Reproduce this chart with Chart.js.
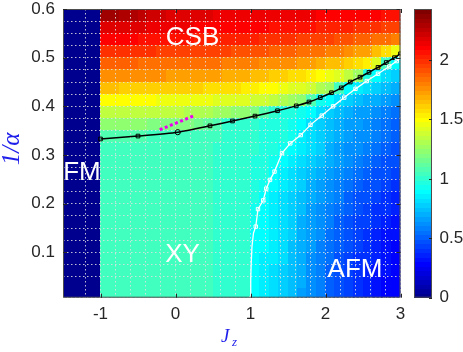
<!DOCTYPE html>
<html>
<head>
<meta charset="utf-8">
<script src="https://cdn.jsdelivr.net/npm/chart.js@4.4.0/dist/chart.umd.min.js"></script>
<style>
  html, body { margin: 0; padding: 0; background: #fff; }
  canvas { display: block; }
</style>
</head>
<body>
<canvas id="phaseChart" width="463" height="352"></canvas>
<script>
// heat map grid: columns start at Jz = -1 (step 0.125), rows start at 1/alpha = 0.6 going down (step 0.025)
const jzStart = -1;
const jzStep = 0.125;
const rowTop = 0.6;
const rowStep = 0.025;
const fmValue = 0; // whole block Jz < -1

const heatRows = [
  [2.33,2.32,2.30,2.28,2.26,2.24,2.22,2.20,2.19,2.18,2.17,2.17,2.16,2.16,2.15,2.15,2.15,2.14,2.14,2.14,2.13,2.13,2.13,2.12,2.12,2.11,2.11,2.10,2.10,2.09,2.08,2.07],
  [2.20,2.20,2.19,2.18,2.17,2.16,2.15,2.14,2.13,2.13,2.12,2.12,2.11,2.11,2.10,2.10,2.09,2.09,2.08,2.08,2.07,2.07,2.06,2.05,2.04,2.03,2.02,2.01,2.00,1.98,1.96,1.94],
  [2.10,2.10,2.09,2.09,2.08,2.08,2.07,2.07,2.06,2.06,2.05,2.05,2.04,2.04,2.03,2.03,2.02,2.01,2.00,1.99,1.98,1.97,1.96,1.95,1.94,1.93,1.91,1.89,1.87,1.85,1.83,1.80],
  [2.00,2.00,1.99,1.99,1.98,1.98,1.97,1.97,1.96,1.96,1.95,1.95,1.94,1.94,1.93,1.92,1.91,1.90,1.89,1.88,1.87,1.86,1.85,1.83,1.81,1.79,1.77,1.74,1.71,1.66,1.58,1.45],
  [1.88,1.88,1.87,1.87,1.86,1.86,1.86,1.85,1.85,1.84,1.84,1.83,1.83,1.82,1.81,1.80,1.79,1.78,1.77,1.76,1.75,1.73,1.71,1.69,1.67,1.64,1.61,1.57,1.52,1.42,1.05,0.88],
  [1.77,1.77,1.76,1.76,1.75,1.75,1.75,1.74,1.74,1.73,1.73,1.72,1.71,1.70,1.69,1.68,1.66,1.65,1.63,1.61,1.59,1.57,1.54,1.51,1.47,1.42,1.36,1.27,0.98,0.90,0.82,0.78],
  [1.64,1.64,1.63,1.63,1.62,1.62,1.62,1.61,1.61,1.60,1.60,1.59,1.58,1.57,1.56,1.55,1.53,1.51,1.49,1.47,1.44,1.41,1.37,1.32,1.27,1.05,0.90,0.84,0.80,0.76,0.73,0.70],
  [1.50,1.50,1.50,1.50,1.49,1.49,1.48,1.48,1.47,1.47,1.46,1.45,1.44,1.43,1.42,1.41,1.39,1.37,1.35,1.32,1.29,1.25,1.08,0.94,0.88,0.83,0.79,0.75,0.72,0.69,0.66,0.63],
  [1.36,1.36,1.35,1.35,1.35,1.34,1.34,1.33,1.33,1.32,1.31,1.30,1.29,1.27,1.25,1.22,1.19,1.10,1.00,0.97,0.95,0.92,0.89,0.82,0.78,0.74,0.71,0.68,0.65,0.62,0.59,0.56],
  [1.23,1.23,1.23,1.22,1.22,1.21,1.21,1.20,1.19,1.18,1.16,1.12,1.08,1.02,1.01,1.00,0.99,0.98,0.97,0.95,0.93,0.90,0.83,0.79,0.75,0.71,0.68,0.65,0.62,0.59,0.56,0.53],
  [1.10,1.10,1.09,1.08,1.08,1.06,1.06,1.05,1.05,1.04,1.04,1.03,1.03,1.02,1.01,1.00,0.99,0.98,0.97,0.95,0.92,0.86,0.82,0.78,0.74,0.70,0.67,0.64,0.61,0.58,0.55,0.52],
  [1.06,1.06,1.06,1.06,1.06,1.06,1.06,1.06,1.05,1.04,1.04,1.03,1.02,1.01,1.00,0.99,0.99,0.98,0.96,0.93,0.88,0.84,0.80,0.76,0.72,0.68,0.64,0.61,0.58,0.55,0.52,0.49],
  [1.06,1.06,1.06,1.06,1.06,1.06,1.06,1.06,1.05,1.04,1.04,1.03,1.02,1.01,1.00,0.99,0.98,0.97,0.94,0.89,0.85,0.81,0.77,0.73,0.69,0.65,0.61,0.58,0.55,0.52,0.49,0.46],
  [1.06,1.06,1.06,1.06,1.06,1.06,1.06,1.06,1.05,1.04,1.04,1.03,1.02,1.01,1.00,0.99,0.98,0.96,0.90,0.86,0.82,0.78,0.74,0.70,0.66,0.62,0.58,0.55,0.52,0.49,0.46,0.43],
  [1.06,1.06,1.06,1.06,1.06,1.06,1.06,1.06,1.05,1.04,1.04,1.03,1.02,1.01,1.00,0.99,0.97,0.93,0.88,0.84,0.80,0.76,0.72,0.67,0.63,0.59,0.55,0.52,0.49,0.46,0.43,0.40],
  [1.06,1.06,1.06,1.06,1.06,1.06,1.06,1.06,1.05,1.04,1.04,1.03,1.02,1.01,1.00,0.99,0.95,0.91,0.87,0.83,0.79,0.74,0.70,0.65,0.61,0.57,0.53,0.49,0.46,0.43,0.40,0.37],
  [1.06,1.06,1.06,1.06,1.06,1.06,1.06,1.06,1.05,1.04,1.04,1.03,1.02,1.01,1.00,0.99,0.93,0.90,0.86,0.82,0.78,0.73,0.68,0.63,0.59,0.55,0.51,0.47,0.44,0.41,0.38,0.35],
  [1.06,1.06,1.06,1.06,1.06,1.06,1.06,1.06,1.05,1.04,1.04,1.03,1.02,1.01,1.00,0.99,0.92,0.89,0.85,0.81,0.77,0.72,0.67,0.62,0.57,0.53,0.49,0.45,0.42,0.39,0.36,0.33],
  [1.06,1.06,1.06,1.06,1.06,1.06,1.06,1.06,1.05,1.04,1.04,1.03,1.02,1.01,1.00,0.99,0.91,0.88,0.85,0.81,0.76,0.71,0.66,0.61,0.56,0.51,0.47,0.43,0.40,0.37,0.34,0.31],
  [1.06,1.06,1.06,1.06,1.06,1.06,1.06,1.06,1.05,1.04,1.04,1.03,1.02,1.01,1.00,0.99,0.91,0.88,0.84,0.80,0.75,0.70,0.65,0.60,0.55,0.50,0.46,0.42,0.39,0.36,0.33,0.30],
  [1.06,1.06,1.06,1.06,1.06,1.06,1.06,1.06,1.05,1.04,1.04,1.03,1.02,1.01,1.00,0.99,0.90,0.87,0.84,0.80,0.75,0.70,0.64,0.59,0.54,0.49,0.45,0.41,0.38,0.35,0.32,0.29],
  [1.06,1.06,1.06,1.06,1.06,1.06,1.06,1.06,1.05,1.04,1.04,1.03,1.02,1.01,1.00,0.99,0.90,0.87,0.83,0.79,0.74,0.69,0.64,0.58,0.53,0.48,0.44,0.40,0.37,0.34,0.31,0.28],
  [1.06,1.06,1.06,1.06,1.06,1.06,1.06,1.06,1.05,1.04,1.04,1.03,1.02,1.01,1.00,0.99,0.90,0.87,0.83,0.79,0.74,0.69,0.63,0.58,0.53,0.48,0.44,0.40,0.36,0.33,0.30,0.28],
  [1.06,1.06,1.06,1.06,1.06,1.06,1.06,1.06,1.05,1.04,1.04,1.03,1.02,1.01,1.00,0.99,0.90,0.87,0.83,0.79,0.74,0.68,0.63,0.57,0.52,0.48,0.43,0.39,0.36,0.33,0.30,0.27]
];

// black boundary (with markers)
const blackJz = [-1, -0.5, 0.03, 0.46, 0.76, 1.06, 1.36, 1.61, 1.78, 1.93, 2.08, 2.21, 2.33, 2.46, 2.58, 2.70, 2.81, 2.92, 3.0];
const blackInvAlpha = [0.333, 0.339, 0.347, 0.360, 0.370, 0.380, 0.391, 0.401, 0.409, 0.418, 0.428, 0.438, 0.450, 0.460, 0.470, 0.480, 0.490, 0.500, 0.508];

// white boundary (markers only from 1/alpha ~0.15 upwards)
const whiteJz = [1.0, 1.003, 1.01, 1.02, 1.04, 1.07, 1.10, 1.17, 1.21, 1.26, 1.32, 1.42, 1.53, 1.67, 1.80, 1.95, 2.10, 2.25, 2.40, 2.55, 2.70, 2.85, 2.95, 3.0];
const whiteInvAlpha = [0.007, 0.045, 0.080, 0.113, 0.140, 0.153, 0.189, 0.207, 0.231, 0.249, 0.266, 0.304, 0.324, 0.341, 0.362, 0.381, 0.400, 0.418, 0.436, 0.452, 0.467, 0.482, 0.493, 0.500];

// magenta dotted segment
const magentaJz = [-0.21, 0.25];
const magentaInvAlpha = [0.352, 0.381];

const xTickLabels = [-1, 0, 1, 2, 3];
const yTickLabels = [0.1, 0.2, 0.3, 0.4, 0.5, 0.6];
const cbTickLabels = [0, 0.5, 1, 1.5, 2];
const cMin = 0, cMax = 2.43;

const regionNames = ['CSB', 'FM', 'XY', 'AFM'];

// MATLAB-style jet(64)
function jet(v) {
  let i = Math.floor((v - cMin) / (cMax - cMin) * 64);
  i = Math.max(0, Math.min(63, i)) + 1;
  const u = k => (k < 1 || k > 47) ? 0 : (k <= 16 ? k / 16 : (k <= 31 ? 1 : (48 - k) / 16));
  const r = u(i - 24), g = u(i - 8), b = u(i + 8);
  return 'rgb(' + Math.round(r * 255) + ',' + Math.round(g * 255) + ',' + Math.round(b * 255) + ')';
}

const sansFont = "'Liberation Sans', Arial, Helvetica, sans-serif";
const serifFont = "'Liberation Serif', 'Times New Roman', serif";
const near = (a, b) => Math.abs(a - b) < 1e-6;
// keep the chart area where the layout padding puts it
const noPad = s => { s.paddingTop = 0; s.paddingBottom = 0; s.paddingLeft = 0; s.paddingRight = 0; };

const heatPlugin = {
  id: 'heat',
  beforeDraw(chart) {
    const { ctx, chartArea: a, scales: { x, y } } = chart;
    ctx.save();
    ctx.beginPath();
    ctx.rect(a.left, a.top, a.right - a.left, a.bottom - a.top);
    ctx.clip();
    ctx.fillStyle = jet(fmValue);
    const fx0 = x.getPixelForValue(x.min), fx1 = x.getPixelForValue(jzStart);
    ctx.fillRect(Math.floor(fx0), a.top, Math.ceil(fx1 - fx0), a.bottom - a.top);
    heatRows.forEach((row, r) => {
      const y0 = y.getPixelForValue(rowTop - r * rowStep);
      const y1 = y.getPixelForValue(rowTop - (r + 1) * rowStep);
      row.forEach((v, c) => {
        const x0 = x.getPixelForValue(jzStart + c * jzStep);
        const x1 = x.getPixelForValue(jzStart + (c + 1) * jzStep);
        ctx.fillStyle = jet(v);
        ctx.fillRect(Math.floor(x0), Math.floor(y0), Math.ceil(x1) - Math.floor(x0), Math.ceil(y1) - Math.floor(y0));
      });
    });
    ctx.restore();
  },
  afterDraw(chart) {
    const { ctx, chartArea: a, scales: { x, y, cb } } = chart;
    ctx.save();
    // region names
    ctx.fillStyle = '#fff';
    ctx.font = '26px ' + sansFont;
    ctx.textAlign = 'center';
    ctx.textBaseline = 'alphabetic';
    const spots = [[0.227, 0.526], [-1.247, 0.249], [0.093, 0.081], [2.393, 0.049]];
    regionNames.forEach((t, i) => {
      ctx.fillText(t, x.getPixelForValue(spots[i][0]), y.getPixelForValue(spots[i][1]));
    });

    // axes box and inner ticks
    ctx.strokeStyle = '#4d4d4d';
    ctx.lineWidth = 1;
    ctx.strokeRect(a.left + 0.5, a.top + 0.5, a.right - a.left - 1, a.bottom - a.top - 1);
    ctx.strokeStyle = '#262626';
    ctx.beginPath();
    xTickLabels.forEach(v => {
      const px = Math.round(x.getPixelForValue(v)) + 0.5;
      ctx.moveTo(px, a.bottom); ctx.lineTo(px, a.bottom - 4);
      ctx.moveTo(px, a.top); ctx.lineTo(px, a.top + 4);
    });
    yTickLabels.forEach(v => {
      const py = Math.round(y.getPixelForValue(v)) + 0.5;
      ctx.moveTo(a.left, py); ctx.lineTo(a.left + 4, py);
      ctx.moveTo(a.right, py); ctx.lineTo(a.right - 4, py);
    });
    ctx.stroke();

    // colorbar
    const bx0 = 414, bx1 = 432;
    for (let k = 0; k < 64; k++) {
      const v0 = cMin + (cMax - cMin) * k / 64, v1 = cMin + (cMax - cMin) * (k + 1) / 64;
      const p0 = cb.getPixelForValue(v0), p1 = cb.getPixelForValue(v1);
      ctx.fillStyle = jet((v0 + v1) / 2);
      ctx.fillRect(bx0, Math.floor(p1), bx1 - bx0, Math.ceil(p0) - Math.floor(p1));
    }
    ctx.strokeStyle = '#4d4d4d';
    ctx.strokeRect(bx0 + 0.5, cb.top + 0.5, bx1 - bx0 - 1, cb.bottom - cb.top - 1);
    ctx.strokeStyle = '#262626';
    ctx.beginPath();
    cbTickLabels.forEach(v => {
      const py = Math.round(cb.getPixelForValue(v)) + 0.5;
      ctx.moveTo(bx1, py); ctx.lineTo(bx1 - 3, py);
    });
    ctx.stroke();

    // axis titles
    ctx.fillStyle = 'rgb(30,30,235)';
    ctx.font = 'italic 19px ' + serifFont;
    ctx.textAlign = 'left';
    ctx.fillText('J', 221, 341.5);
    ctx.font = 'italic 13px ' + serifFont;
    ctx.fillText('z', 232, 346);
    ctx.save();
    ctx.translate(19, 149);
    ctx.rotate(-Math.PI / 2);
    ctx.textAlign = 'center';
    ctx.font = 'italic 25px ' + serifFont;
    ctx.fillText('1/\u03B1', 0, 0);
    ctx.restore();
    ctx.restore();
  }
};

const pts = (xs, ys) => xs.map((v, i) => ({ x: v, y: ys[i] }));

new Chart(document.getElementById('phaseChart'), {
  type: 'scatter',
  data: {
    datasets: [
      {
        label: 'white',
        data: pts(whiteJz, whiteInvAlpha),
        showLine: true,
        borderColor: '#fff',
        borderWidth: 1.3,
        pointStyle: 'rect',
        pointRadius: whiteJz.map((v, i) => (i >= 1 && i <= 4) ? 0 : (i === 0 ? 1.5 : 2.4)),
        pointBorderColor: '#fff',
        pointBackgroundColor: 'rgba(0,0,0,0)',
        pointBorderWidth: 1,
        tension: 0
      },
      {
        label: 'black',
        data: pts(blackJz, blackInvAlpha),
        showLine: true,
        borderColor: '#000',
        borderWidth: 1.5,
        pointStyle: blackJz.map((v, i) => i === 2 ? 'circle' : 'rect'),
        pointRadius: 2.6,
        pointBorderColor: '#000',
        pointBackgroundColor: 'rgba(0,0,0,0)',
        pointBorderWidth: 1,
        tension: 0.2
      },
      {
        label: 'magenta',
        data: pts(magentaJz, magentaInvAlpha),
        showLine: true,
        borderColor: '#ee00ee',
        borderWidth: 3,
        borderDash: [3, 2.5],
        pointRadius: 0
      }
    ]
  },
  options: {
    responsive: false,
    animation: false,
    layout: { padding: { top: 9, left: 0, right: 0, bottom: 0 } },
    plugins: { legend: { display: false }, tooltip: { enabled: false } },
    scales: {
      x: {
        type: 'linear',
        min: -1.5,
        max: 3,
        afterFit: s => { s.height = 54.3; noPad(s); },
        grid: { color: 'rgba(225,225,225,0.85)', lineWidth: 1, drawTicks: false },
        border: { display: false, dash: [1.5, 2.5] },
        ticks: {
          stepSize: 0.2,
          autoSkip: false,
          maxRotation: 0,
          padding: 6,
          color: '#262626',
          font: { family: sansFont, size: 17 },
          callback: v => xTickLabels.some(t => near(t, v)) ? String(Math.round(v)) : ''
        }
      },
      y: {
        type: 'linear',
        min: 0.007,
        max: 0.6,
        afterFit: s => { s.width = 63; noPad(s); },
        grid: { color: 'rgba(225,225,225,0.85)', lineWidth: 1, drawTicks: false },
        border: { display: false, dash: [1.5, 2.5] },
        ticks: {
          stepSize: 0.025,
          autoSkip: false,
          padding: 8,
          color: '#262626',
          font: { family: sansFont, size: 17 },
          callback: v => yTickLabels.some(t => near(t, v)) ? v.toFixed(1) : ''
        }
      },
      cb: {
        type: 'linear',
        position: 'right',
        min: cMin,
        max: cMax,
        afterFit: s => { s.width = 62.5; noPad(s); },
        grid: { display: false },
        border: { display: false },
        ticks: {
          stepSize: 0.5,
          autoSkip: false,
          padding: 31,
          color: '#262626',
          font: { family: sansFont, size: 17 },
          callback: v => cbTickLabels.some(t => near(t, v)) ? String(v) : ''
        }
      }
    }
  },
  plugins: [heatPlugin]
});
</script>
</body>
</html>
